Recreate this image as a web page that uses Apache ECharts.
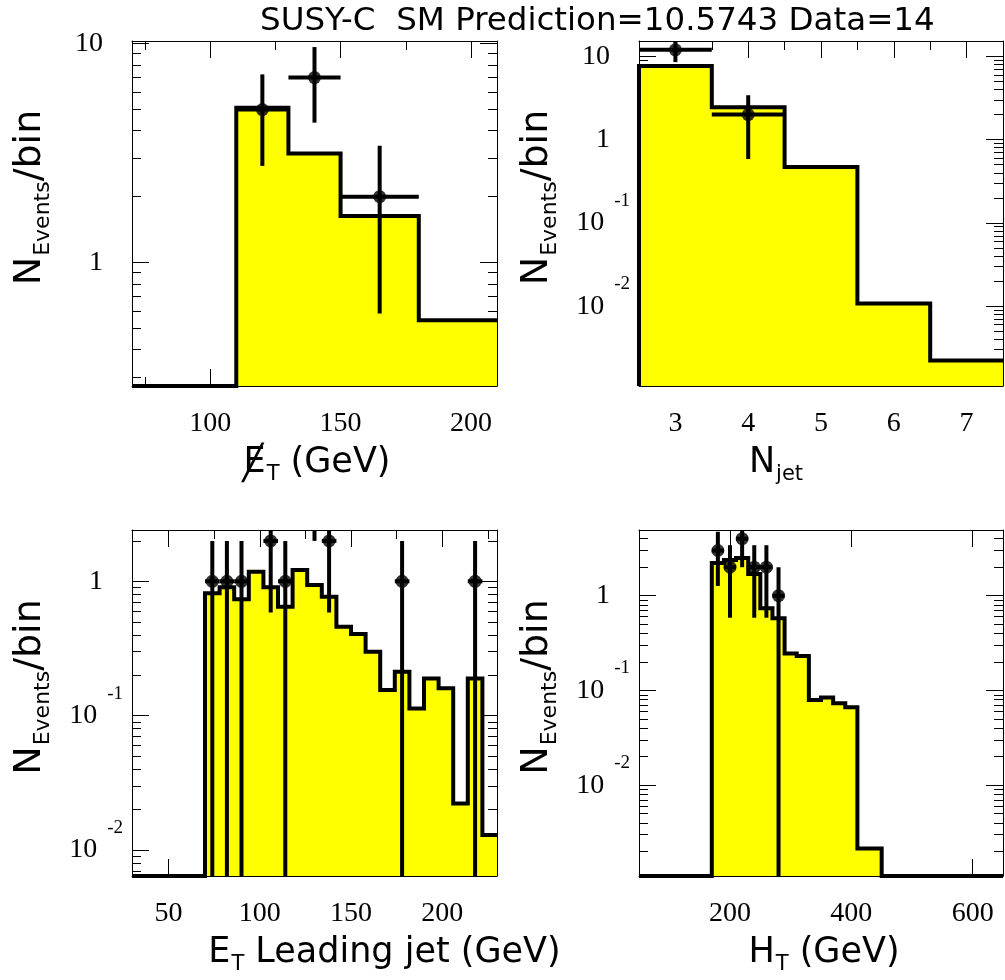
<!DOCTYPE html>
<html><head><meta charset="utf-8">
<script src="https://cdn.jsdelivr.net/npm/echarts@6/dist/echarts.min.js"></script>
<style>html,body{margin:0;padding:0;background:#fff}#c{width:1005px;height:980px}</style>
</head><body><div id="c"></div><script>
// ---------------- data ----------------
const titleText = 'SUSY-C  SM Prediction=10.5743 Data=14';

// Panel 1: missing ET
const metEdges = [110, 130, 150, 180, 210];
const metPred = [5.10, 3.15, 1.63, 0.545];
const metDataX = [120, 140, 165];
const metDataN = [5, 7, 2];
const metXLabels = [100, 150, 200];
const metXMinor = [75, 125, 175];
const metYLabels = [1, 10];

// Panel 2: N jet
const njetEdges = [2.5, 3.5, 4.5, 5.5, 6.5, 7.5];
const njetPred = [7.65, 2.45, 0.469, 0.0108, 0.00222];
const njetDataX = [3, 4];
const njetDataN = [12, 2];
const njetXLabels = [3, 4, 5, 6, 7];
const njetXMinor = [3.5, 4.5, 5.5, 6.5];
const njetYLabels = [0.01, 0.1, 1, 10];

// Panel 3: ET leading jet
const etEdges = [70, 78, 86, 94, 102, 110, 118, 126, 134, 142, 150, 158, 166, 174, 182, 190, 198, 206, 214, 222, 230];
const etPred = [0.814, 0.902, 0.734, 1.179, 0.902, 0.647, 1.214, 0.938, 0.768, 0.459, 0.405, 0.299, 0.155, 0.212, 0.113, 0.189, 0.160, 0.0222, 0.189, 0.0129];
const etDataX = [74, 82, 90, 106, 114, 130, 138, 178, 218];
const etDataN = [1, 1, 1, 2, 1, 4, 2, 1, 1];
const etXLabels = [50, 100, 150, 200];
const etXMinor = [75, 125, 175, 225];
const etYLabels = [0.01, 0.1, 1];

// Panel 4: HT
const htEdges = [170, 190, 210, 230, 250, 270, 290, 310, 330, 350, 370, 390, 410, 430, 450];
const htPred = [2.22, 2.38, 2.50, 1.70, 0.736, 0.577, 0.246, 0.231, 0.0792, 0.0845, 0.0731, 0.0663, 0.00215, 0.00215];
const htDataX = [180, 200, 220, 240, 260, 280];
const htDataN = [3, 2, 4, 2, 2, 1];
const htXLabels = [200, 400, 600];
const htXMinor = [];
const htYLabels = [0.01, 0.1, 1];

// ---------------- styling / layout ----------------
const SERIF = 'Liberation Serif';
const SANS = 'DejaVu Sans';
const YELLOW = '#ffff00';

const yNameRich = '{n|N}{s|Events}{n|/bin}';
const panels = [
  { grid: { left: 132, top: 41, width: 365, height: 345 }, xr: [70, 210], yr: [0.273, 10.28],
    edges: metEdges, pred: metPred, dx: metDataX, dn: metDataN,
    xLab: metXLabels, xMin: metXMinor, yLab: metYLabels,
    xName: '{sl|\u2571}{m|E}{s|T}{m| (GeV)}', xNamePad: [0, 0, 0, 4] },
  { grid: { left: 639, top: 41, width: 364, height: 345 }, xr: [2.5, 7.5], yr: [0.0011, 15.3],
    edges: njetEdges, pred: njetPred, dx: njetDataX, dn: njetDataN,
    xLab: njetXLabels, xMin: njetXMinor, yLab: njetYLabels,
    xName: '{m|N}{s|jet}', xNamePad: [0, 90, 0, 0] },
  { grid: { left: 132, top: 530, width: 365, height: 346 }, xr: [30, 230], yr: [0.0064, 2.41],
    edges: etEdges, pred: etPred, dx: etDataX, dn: etDataN,
    xLab: etXLabels, xMin: etXMinor, yLab: etYLabels,
    xName: '{m|E}{s|T}{m| Leading jet (GeV)}', xNamePad: [0, 0, 0, 140] },
  { grid: { left: 639, top: 530, width: 364, height: 346 }, xr: [50, 650], yr: [0.0011, 4.94],
    edges: htEdges, pred: htPred, dx: htDataX, dn: htDataN,
    xLab: htXLabels, xMin: htXMinor, yLab: htYLabels,
    xName: '{m|H}{s|T}{m| (GeV)}', xNamePad: [0, 0, 0, 6] }
];

function logMinors(min, max) {
  const out = [];
  for (let e = Math.floor(Math.log10(min)); e <= Math.ceil(Math.log10(max)); e++) {
    for (let m = 2; m <= 9; m++) {
      const v = +(m * Math.pow(10, e)).toPrecision(6);
      if (v >= min && v <= max) out.push(v);
    }
  }
  return out;
}
function yFmt(v) {
  const e = Math.round(Math.log10(v));
  if (e === 0) return '{p|1}';
  if (e === 1) return '{p|10}';
  return '{b|10}{e|' + e + '}';
}
const tickLine = { color: '#000', width: 1 };
const frameLine = { show: true, onZero: false, lineStyle: { color: '#000', width: 1 } };

const grids = [], xAxes = [], yAxes = [], series = [];
panels.forEach((P, i) => {
  grids.push(Object.assign({ containLabel: false }, P.grid));
  const xb = { gridIndex: i, type: 'value', min: P.xr[0], max: P.xr[1], splitLine: { show: false } };
  const yb = { gridIndex: i, type: 'log', logBase: 10, min: P.yr[0], max: P.yr[1], splitLine: { show: false } };
  // x axes: bottom major (labels+name), bottom minor, top major, top minor
  xAxes.push(Object.assign({}, xb, {
    position: 'bottom', axisLine: frameLine,
    axisTick: { show: true, inside: true, length: 17, customValues: P.xLab, lineStyle: tickLine },
    axisLabel: { show: true, customValues: P.xLab, fontFamily: SERIF, fontSize: 28, color: '#000', margin: 24 },
    name: P.xName, nameLocation: 'middle', nameGap: 54,
    nameTextStyle: { padding: P.xNamePad, rich: {
      m: { fontFamily: SANS, fontSize: 35, color: '#000', verticalAlign: 'middle' },
      sl: { fontFamily: SANS, fontSize: 34, color: '#000', verticalAlign: 'middle', width: 1, align: 'left', padding: [5, 0, 0, 0] },
      s: { fontFamily: SANS, fontSize: 21, color: '#000', verticalAlign: 'middle', padding: [24, 0, 0, 1] } } }
  }));
  xAxes.push(Object.assign({}, xb, { position: 'bottom', axisLine: { show: false },
    axisTick: { show: P.xMin.length > 0, inside: true, length: 9, customValues: P.xMin.length ? P.xMin : [P.xr[0]], lineStyle: tickLine },
    axisLabel: { show: false } }));
  xAxes.push(Object.assign({}, xb, { position: 'top', axisLine: frameLine,
    axisTick: { show: true, inside: true, length: 17, customValues: P.xLab, lineStyle: tickLine },
    axisLabel: { show: false } }));
  xAxes.push(Object.assign({}, xb, { position: 'top', axisLine: { show: false },
    axisTick: { show: P.xMin.length > 0, inside: true, length: 9, customValues: P.xMin.length ? P.xMin : [P.xr[0]], lineStyle: tickLine },
    axisLabel: { show: false } }));
  const yMinor = logMinors(P.yr[0], P.yr[1]);
  yAxes.push(Object.assign({}, yb, {
    position: 'left', axisLine: frameLine,
    axisTick: { show: true, inside: true, length: 17, customValues: P.yLab, lineStyle: tickLine },
    axisLabel: { show: true, customValues: P.yLab, formatter: yFmt, margin: 9, rich: {
      p: { fontFamily: SERIF, fontSize: 28, color: '#000', verticalAlign: 'middle', padding: [0, 20, 0, 0] },
      b: { fontFamily: SERIF, fontSize: 28, color: '#000', verticalAlign: 'middle' },
      e: { fontFamily: SERIF, fontSize: 19, color: '#000', verticalAlign: 'middle', padding: [0, 0, 44, 10] } } },
    name: yNameRich, nameLocation: 'middle', nameRotate: 90, nameGap: 78,
    nameTextStyle: { padding: [0, 0, 0, 32], rich: {
      n: { fontFamily: SANS, fontSize: 38, color: '#000', verticalAlign: 'middle' },
      s: { fontFamily: SANS, fontSize: 22, color: '#000', verticalAlign: 'middle', padding: [26, 0, 0, 1] } } }
  }));
  yAxes.push(Object.assign({}, yb, { position: 'left', axisLine: { show: false },
    axisTick: { show: true, inside: true, length: 9, customValues: yMinor, lineStyle: tickLine },
    axisLabel: { show: false } }));
  yAxes.push(Object.assign({}, yb, { position: 'right', axisLine: frameLine,
    axisTick: { show: true, inside: true, length: 17, customValues: P.yLab, lineStyle: tickLine },
    axisLabel: { show: false } }));
  yAxes.push(Object.assign({}, yb, { position: 'right', axisLine: { show: false },
    axisTick: { show: true, inside: true, length: 9, customValues: yMinor, lineStyle: tickLine },
    axisLabel: { show: false } }));

  const xi = 4 * i, yi = 4 * i;
  const floor = P.yr[0];
  // histogram step outline
  const pts = [];
  if (P.edges[0] > P.xr[0]) pts.push([P.xr[0], floor]);
  pts.push([P.edges[0], floor]);
  for (let k = 0; k < P.pred.length; k++) pts.push([P.edges[k], Math.max(P.pred[k], floor)]);
  const last = P.edges[P.edges.length - 1];
  if (last < P.xr[1]) { pts.push([last, floor]); pts.push([P.xr[1], floor]); }
  else pts.push([last, P.pred[P.pred.length - 1]]);
  series.push({ type: 'line', xAxisIndex: xi, yAxisIndex: yi, step: 'end', symbol: 'none', data: pts,
    clip: true, lineStyle: { color: '#000', width: 4, join: 'miter', cap: 'butt' },
    areaStyle: { color: YELLOW, opacity: 1, origin: 'start' }, z: 2 });
  // error bars (Poisson sqrt(N)), horizontal extent = bin containing point
  const eb = P.dx.map((x, k) => {
    const n = P.dn[k], s = Math.sqrt(n);
    let lo = P.edges[0], hi = last;
    for (let j = 0; j < P.edges.length - 1; j++) if (x >= P.edges[j] && x < P.edges[j + 1]) { lo = P.edges[j]; hi = P.edges[j + 1]; }
    return [x, n, n - s, n + s, lo, hi];
  });
  series.push({ type: 'custom', xAxisIndex: xi, yAxisIndex: yi, data: eb, clip: true, z: 3,
    renderItem: (params, api) => {
      const x = api.value(0), y = api.value(1);
      const ylo = Math.max(api.value(2), P.yr[0]), yhi = Math.min(api.value(3), P.yr[1]);
      const ch = [];
      if (yhi > ylo) {
        const a = api.coord([x, ylo]), b = api.coord([x, yhi]);
        ch.push({ type: 'line', shape: { x1: a[0], y1: a[1], x2: b[0], y2: b[1] }, style: { stroke: '#000', lineWidth: 4 } });
      }
      if (y <= P.yr[1] && y >= P.yr[0]) {
        const a = api.coord([api.value(4), y]), b = api.coord([api.value(5), y]);
        ch.push({ type: 'line', shape: { x1: a[0], y1: a[1], x2: b[0], y2: b[1] }, style: { stroke: '#000', lineWidth: 4 } });
      }
      return { type: 'group', children: ch };
    } });
  series.push({ type: 'scatter', xAxisIndex: xi, yAxisIndex: yi, symbol: 'circle', symbolSize: 13, clip: true, z: 4,
    itemStyle: { color: '#000' }, data: P.dx.map((x, k) => [x, P.dn[k]]) });
});

const chart = echarts.init(document.getElementById('c'), null, { renderer: 'canvas' });
chart.setOption({
  animation: false,
  backgroundColor: '#fff',
  title: { text: titleText, left: 255, top: 0, textStyle: { fontFamily: SANS, fontSize: 32.5, fontWeight: 'normal', color: '#000' } },
  grid: grids, xAxis: xAxes, yAxis: yAxes, series: series
});
</script></body></html>
